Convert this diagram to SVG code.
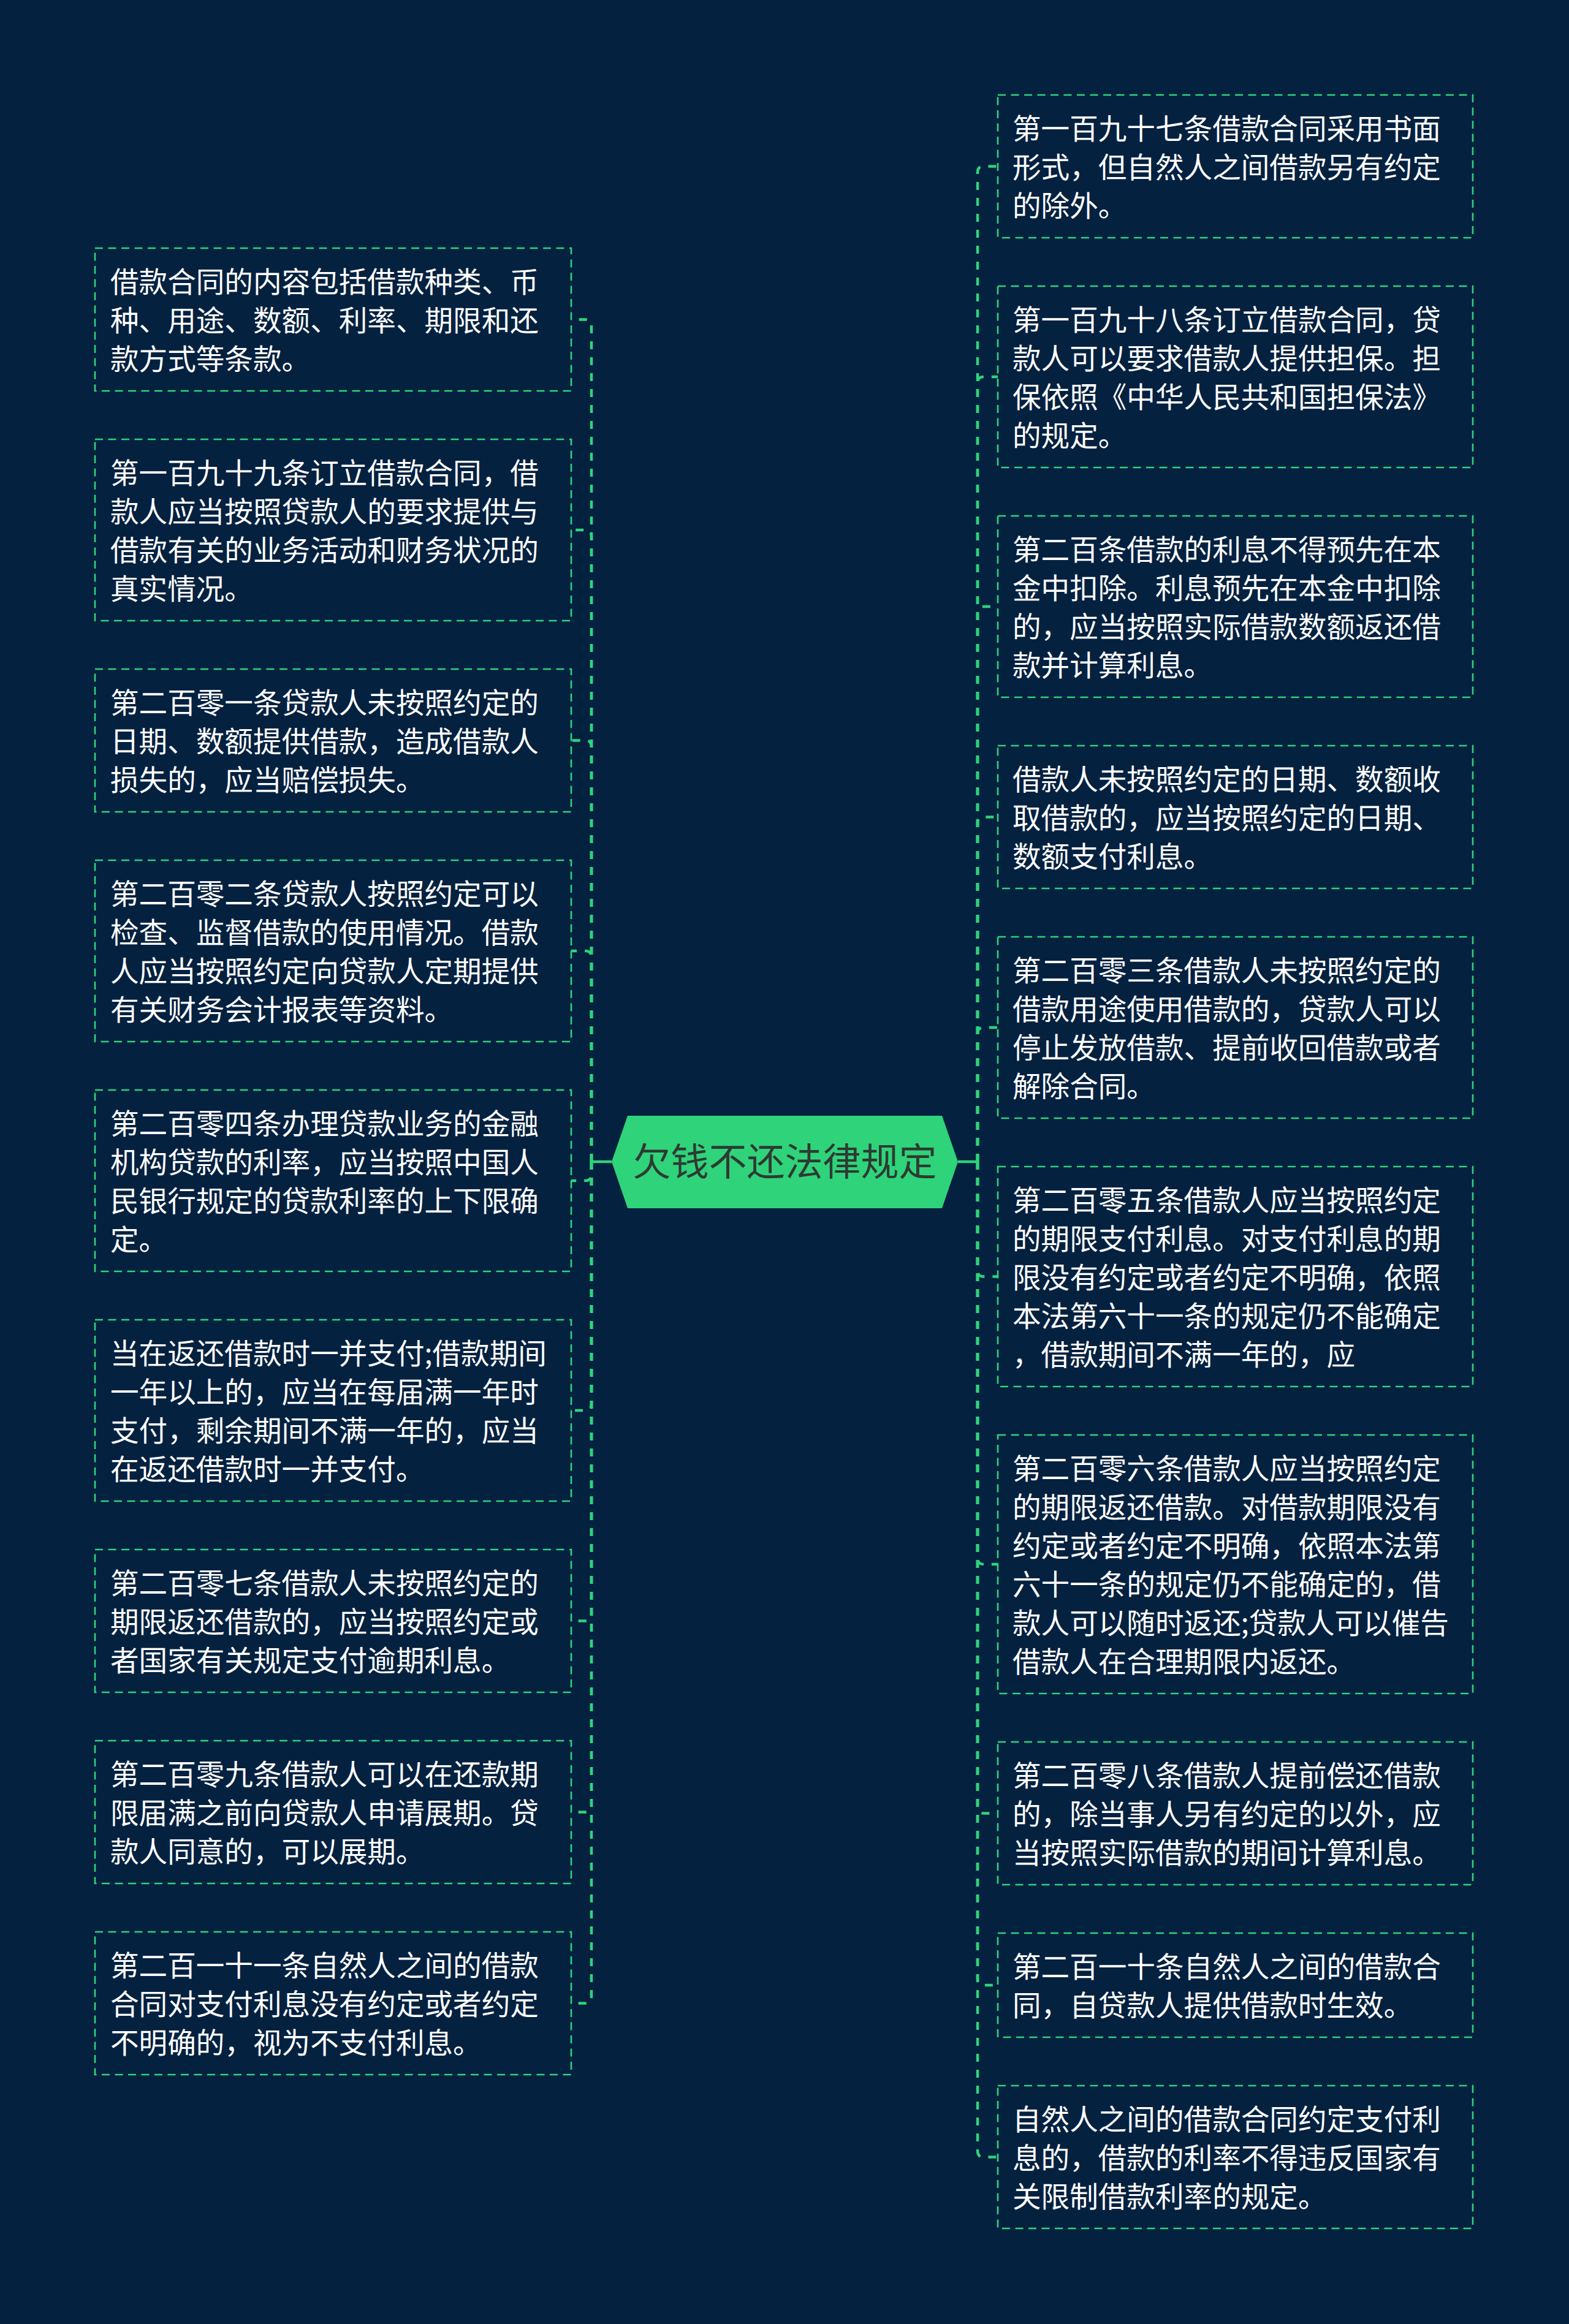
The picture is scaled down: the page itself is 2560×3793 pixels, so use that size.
<svg xmlns="http://www.w3.org/2000/svg" width="2560" height="3793" viewBox="0 0 2560 3793">
<style>
.bg{fill:#052140}
.box{fill:#052140;stroke:#2fd37a;stroke-width:2.6;stroke-dasharray:13 8.5}
.t{font-family:"Noto Sans CJK SC","Noto Sans",sans-serif;font-size:46.6px;fill:#ffffff}
.conn path{fill:none;stroke:#2fd37a;stroke-width:4.5;stroke-dasharray:13 13}
.conn path.solid{stroke-dasharray:none}
.root{fill:#2fd37a}
.rt{font-family:"Noto Sans CJK SC","Noto Sans",sans-serif;font-size:62px;fill:#2e3a33}
</style>
<rect class="bg" x="0" y="0" width="2560" height="3793"/>
<g id="connectors" class="conn">
<path class="solid" d="M965,1896 H998"/>
<path class="solid" d="M1595,1896 H1563"/>
<path d="M965,1896 V531.5 Q965,521.5 955,521.5 H932"/>
<path d="M965,1896 V875 Q965,865 955,865 H932"/>
<path d="M965,1896 V1218.5 Q965,1208.5 955,1208.5 H932"/>
<path d="M965,1896 V1562 Q965,1552 955,1552 H932"/>
<path d="M965,1896 V1917 Q965,1927 955,1927 H932"/>
<path d="M965,1896 V2292 Q965,2302 955,2302 H932"/>
<path d="M965,1896 V2635.5 Q965,2645.5 955,2645.5 H932"/>
<path d="M965,1896 V2947.5 Q965,2957.5 955,2957.5 H932"/>
<path d="M965,1896 V3259.5 Q965,3269.5 955,3269.5 H932"/>
<path d="M1595,1896 V281.5 Q1595,271.5 1605,271.5 H1628"/>
<path d="M1595,1896 V625 Q1595,615 1605,615 H1628"/>
<path d="M1595,1896 V1000 Q1595,990 1605,990 H1628"/>
<path d="M1595,1896 V1343.5 Q1595,1333.5 1605,1333.5 H1628"/>
<path d="M1595,1896 V1687 Q1595,1677 1605,1677 H1628"/>
<path d="M1595,1896 V2073.5 Q1595,2083.5 1605,2083.5 H1628"/>
<path d="M1595,1896 V2543 Q1595,2553 1605,2553 H1628"/>
<path d="M1595,1896 V2949.5 Q1595,2959.5 1605,2959.5 H1628"/>
<path d="M1595,1896 V3230 Q1595,3240 1605,3240 H1628"/>
<path d="M1595,1896 V3510.5 Q1595,3520.5 1605,3520.5 H1628"/>
</g>
<g id="root">
<polygon class="root" points="998,1896 1024,1821 1537,1821 1563,1896 1537,1972 1024,1972"/>
<text class="rt" x="1280.5" y="1919" text-anchor="middle">欠钱不还法律规定</text>
</g>
<g id="L1"><rect class="box" x="155" y="405" width="777" height="233"/>
<text class="t"><tspan x="180" y="477">借款合同的内容包括借款种类、币</tspan><tspan x="180" y="540">种、用途、数额、利率、期限和还</tspan><tspan x="180" y="603">款方式等条款。</tspan></text></g>
<g id="L2"><rect class="box" x="155" y="717" width="777" height="296"/>
<text class="t"><tspan x="180" y="789">第一百九十九条订立借款合同，借</tspan><tspan x="180" y="852">款人应当按照贷款人的要求提供与</tspan><tspan x="180" y="915">借款有关的业务活动和财务状况的</tspan><tspan x="180" y="978">真实情况。</tspan></text></g>
<g id="L3"><rect class="box" x="155" y="1092" width="777" height="233"/>
<text class="t"><tspan x="180" y="1164">第二百零一条贷款人未按照约定的</tspan><tspan x="180" y="1227">日期、数额提供借款，造成借款人</tspan><tspan x="180" y="1290">损失的，应当赔偿损失。</tspan></text></g>
<g id="L4"><rect class="box" x="155" y="1404" width="777" height="296"/>
<text class="t"><tspan x="180" y="1476">第二百零二条贷款人按照约定可以</tspan><tspan x="180" y="1539">检查、监督借款的使用情况。借款</tspan><tspan x="180" y="1602">人应当按照约定向贷款人定期提供</tspan><tspan x="180" y="1665">有关财务会计报表等资料。</tspan></text></g>
<g id="L5"><rect class="box" x="155" y="1779" width="777" height="296"/>
<text class="t"><tspan x="180" y="1851">第二百零四条办理贷款业务的金融</tspan><tspan x="180" y="1914">机构贷款的利率，应当按照中国人</tspan><tspan x="180" y="1977">民银行规定的贷款利率的上下限确</tspan><tspan x="180" y="2040">定。</tspan></text></g>
<g id="L6"><rect class="box" x="155" y="2154" width="777" height="296"/>
<text class="t"><tspan x="180" y="2226">当在返还借款时一并支付;借款期间</tspan><tspan x="180" y="2289">一年以上的，应当在每届满一年时</tspan><tspan x="180" y="2352">支付，剩余期间不满一年的，应当</tspan><tspan x="180" y="2415">在返还借款时一并支付。</tspan></text></g>
<g id="L7"><rect class="box" x="155" y="2529" width="777" height="233"/>
<text class="t"><tspan x="180" y="2601">第二百零七条借款人未按照约定的</tspan><tspan x="180" y="2664">期限返还借款的，应当按照约定或</tspan><tspan x="180" y="2727">者国家有关规定支付逾期利息。</tspan></text></g>
<g id="L8"><rect class="box" x="155" y="2841" width="777" height="233"/>
<text class="t"><tspan x="180" y="2913">第二百零九条借款人可以在还款期</tspan><tspan x="180" y="2976">限届满之前向贷款人申请展期。贷</tspan><tspan x="180" y="3039">款人同意的，可以展期。</tspan></text></g>
<g id="L9"><rect class="box" x="155" y="3153" width="777" height="233"/>
<text class="t"><tspan x="180" y="3225">第二百一十一条自然人之间的借款</tspan><tspan x="180" y="3288">合同对支付利息没有约定或者约定</tspan><tspan x="180" y="3351">不明确的，视为不支付利息。</tspan></text></g>
<g id="R1"><rect class="box" x="1628" y="155" width="775" height="233"/>
<text class="t"><tspan x="1652" y="227">第一百九十七条借款合同采用书面</tspan><tspan x="1652" y="290">形式，但自然人之间借款另有约定</tspan><tspan x="1652" y="353">的除外。</tspan></text></g>
<g id="R2"><rect class="box" x="1628" y="467" width="775" height="296"/>
<text class="t"><tspan x="1652" y="539">第一百九十八条订立借款合同，贷</tspan><tspan x="1652" y="602">款人可以要求借款人提供担保。担</tspan><tspan x="1652" y="665">保依照《中华人民共和国担保法》</tspan><tspan x="1652" y="728">的规定。</tspan></text></g>
<g id="R3"><rect class="box" x="1628" y="842" width="775" height="296"/>
<text class="t"><tspan x="1652" y="914">第二百条借款的利息不得预先在本</tspan><tspan x="1652" y="977">金中扣除。利息预先在本金中扣除</tspan><tspan x="1652" y="1040">的，应当按照实际借款数额返还借</tspan><tspan x="1652" y="1103">款并计算利息。</tspan></text></g>
<g id="R4"><rect class="box" x="1628" y="1217" width="775" height="233"/>
<text class="t"><tspan x="1652" y="1289">借款人未按照约定的日期、数额收</tspan><tspan x="1652" y="1352">取借款的，应当按照约定的日期、</tspan><tspan x="1652" y="1415">数额支付利息。</tspan></text></g>
<g id="R5"><rect class="box" x="1628" y="1529" width="775" height="296"/>
<text class="t"><tspan x="1652" y="1601">第二百零三条借款人未按照约定的</tspan><tspan x="1652" y="1664">借款用途使用借款的，贷款人可以</tspan><tspan x="1652" y="1727">停止发放借款、提前收回借款或者</tspan><tspan x="1652" y="1790">解除合同。</tspan></text></g>
<g id="R6"><rect class="box" x="1628" y="1904" width="775" height="359"/>
<text class="t"><tspan x="1652" y="1976">第二百零五条借款人应当按照约定</tspan><tspan x="1652" y="2039">的期限支付利息。对支付利息的期</tspan><tspan x="1652" y="2102">限没有约定或者约定不明确，依照</tspan><tspan x="1652" y="2165">本法第六十一条的规定仍不能确定</tspan><tspan x="1652" y="2228">，借款期间不满一年的，应</tspan></text></g>
<g id="R7"><rect class="box" x="1628" y="2342" width="775" height="422"/>
<text class="t"><tspan x="1652" y="2414">第二百零六条借款人应当按照约定</tspan><tspan x="1652" y="2477">的期限返还借款。对借款期限没有</tspan><tspan x="1652" y="2540">约定或者约定不明确，依照本法第</tspan><tspan x="1652" y="2603">六十一条的规定仍不能确定的，借</tspan><tspan x="1652" y="2666">款人可以随时返还;贷款人可以催告</tspan><tspan x="1652" y="2729">借款人在合理期限内返还。</tspan></text></g>
<g id="R8"><rect class="box" x="1628" y="2843" width="775" height="233"/>
<text class="t"><tspan x="1652" y="2915">第二百零八条借款人提前偿还借款</tspan><tspan x="1652" y="2978">的，除当事人另有约定的以外，应</tspan><tspan x="1652" y="3041">当按照实际借款的期间计算利息。</tspan></text></g>
<g id="R9"><rect class="box" x="1628" y="3155" width="775" height="170"/>
<text class="t"><tspan x="1652" y="3227">第二百一十条自然人之间的借款合</tspan><tspan x="1652" y="3290">同，自贷款人提供借款时生效。</tspan></text></g>
<g id="R10"><rect class="box" x="1628" y="3404" width="775" height="233"/>
<text class="t"><tspan x="1652" y="3476">自然人之间的借款合同约定支付利</tspan><tspan x="1652" y="3539">息的，借款的利率不得违反国家有</tspan><tspan x="1652" y="3602">关限制借款利率的规定。</tspan></text></g>
</svg>
